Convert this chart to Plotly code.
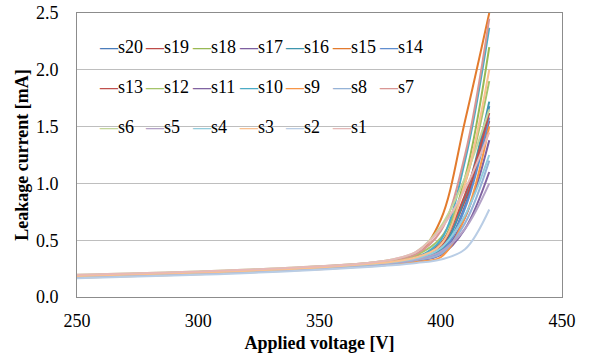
import plotly.graph_objects as go

voltage = [250, 275, 300, 325, 350, 370, 380, 390, 400, 410, 420]

s20 = [0.180, 0.195, 0.210, 0.230, 0.255, 0.280, 0.300, 0.330, 0.400, 0.800, 1.68]
s19 = [0.185, 0.200, 0.215, 0.235, 0.260, 0.285, 0.305, 0.340, 0.440, 0.850, 1.55]
s18 = [0.180, 0.195, 0.210, 0.235, 0.260, 0.290, 0.310, 0.350, 0.470, 1.050, 2.20]
s17 = [0.175, 0.190, 0.205, 0.225, 0.250, 0.275, 0.295, 0.325, 0.380, 0.700, 1.38]
s16 = [0.180, 0.195, 0.210, 0.230, 0.255, 0.280, 0.300, 0.335, 0.420, 0.880, 1.72]
s15 = [0.175, 0.190, 0.205, 0.225, 0.250, 0.275, 0.295, 0.360, 0.680, 1.550, 2.50]
s14 = [0.180, 0.195, 0.210, 0.230, 0.255, 0.280, 0.300, 0.330, 0.390, 0.780, 1.58]
s13 = [0.185, 0.200, 0.215, 0.235, 0.260, 0.285, 0.310, 0.350, 0.470, 0.900, 1.62]
s12 = [0.190, 0.205, 0.220, 0.240, 0.265, 0.295, 0.320, 0.370, 0.520, 1.000, 1.90]
s11 = [0.175, 0.190, 0.205, 0.225, 0.250, 0.275, 0.295, 0.320, 0.370, 0.600, 1.10]
s10 = [0.180, 0.195, 0.210, 0.230, 0.255, 0.285, 0.305, 0.345, 0.500, 1.200, 2.37]
s9  = [0.170, 0.185, 0.200, 0.220, 0.245, 0.270, 0.285, 0.310, 0.350, 0.700, 1.50]
s8  = [0.175, 0.190, 0.205, 0.225, 0.250, 0.275, 0.295, 0.325, 0.380, 0.650, 1.20]
s7  = [0.190, 0.205, 0.220, 0.240, 0.270, 0.300, 0.325, 0.380, 0.580, 1.250, 2.45]
s6  = [0.195, 0.210, 0.225, 0.245, 0.270, 0.300, 0.330, 0.400, 0.620, 1.050, 1.65]
s5  = [0.180, 0.195, 0.210, 0.230, 0.255, 0.280, 0.300, 0.330, 0.400, 0.600, 1.00]
s4  = [0.185, 0.200, 0.215, 0.235, 0.260, 0.285, 0.305, 0.340, 0.430, 0.720, 1.25]
s3  = [0.185, 0.200, 0.215, 0.235, 0.260, 0.290, 0.310, 0.350, 0.460, 1.000, 2.00]
s2  = [0.165, 0.180, 0.195, 0.215, 0.240, 0.265, 0.280, 0.300, 0.330, 0.420, 0.77]
s1  = [0.195, 0.210, 0.225, 0.245, 0.270, 0.300, 0.330, 0.400, 0.600, 0.950, 1.45]

series_names = ["s20", "s19", "s18", "s17", "s16", "s15", "s14",
                "s13", "s12", "s11", "s10", "s9", "s8", "s7",
                "s6", "s5", "s4", "s3", "s2", "s1"]
series_values = [s20, s19, s18, s17, s16, s15, s14,
                 s13, s12, s11, s10, s9, s8, s7,
                 s6, s5, s4, s3, s2, s1]
series_colors = ["#4A7EBB", "#BE4B48", "#98B954", "#7D60A0", "#3D96AE", "#E37B2D", "#5F8FCF",
                 "#C0504D", "#A5C46A", "#8064A2", "#4BACC6", "#F79646", "#95B3D7", "#D99694",
                 "#C3D69B", "#B3A2C7", "#93CDDD", "#FAC090", "#B9CDE5", "#E6B9B8"]

FONT = "Liberation Serif"

fig = go.Figure()
for name, vals, col in zip(series_names, series_values, series_colors):
    fig.add_trace(go.Scatter(
        x=voltage, y=vals, name=name, mode="lines",
        line=dict(color=col, width=2, shape="spline", smoothing=1),
        showlegend=False,
    ))

FW, FH = 594, 358
L, R, T, B = 77, 562, 13, 297
W, H = R - L, B - T
col_px = [97, 143, 190, 237, 283, 330, 377]
row_px = [47, 87, 127]

# white legend box hiding the gridlines behind the legend
fig.add_shape(type="rect", xref="paper", yref="paper", layer="between",
              x0=(93 - L) / W, x1=(421 - L) / W,
              y0=1 - (150 - T) / H, y1=1 - (30 - T) / H,
              fillcolor="white", line=dict(width=0))

for i, (name, col) in enumerate(zip(series_names, series_colors)):
    r, c = divmod(i, 7)
    fig.add_annotation(
        xref="paper", yref="paper",
        x=(col_px[c] - L) / W, y=1 - (row_px[r] - T) / H,
        xanchor="left", yanchor="middle", showarrow=False,
        text=f"<span style='color:{col}'><b>—</b></span>{name}",
        font=dict(family=FONT, size=18, color="#000000", weight="normal"),
    )

fig.update_layout(
    width=FW, height=FH,
    margin=dict(l=L, r=FW - R, t=T, b=FH - B, autoexpand=False),
    paper_bgcolor="white", plot_bgcolor="white",
    font=dict(family=FONT, size=18, color="#000000"),
    showlegend=False,
    xaxis=dict(
        range=[250, 450], dtick=50, tick0=250, automargin=False,
        showgrid=False, zeroline=False,
        showline=True, linecolor="#8C8C8C", linewidth=1, mirror=True,
        ticks="", ticklabelstandoff=7,
        tickfont=dict(family=FONT, size=18, color="#000000", weight="normal"),
        title=dict(text="<b>Applied voltage [V]</b>", standoff=6,
                   font=dict(family=FONT, size=18, color="#000000")),
    ),
    yaxis=dict(
        range=[0, 2.5], dtick=0.5, tick0=0, tickformat=".1f", automargin=False,
        showgrid=True, gridcolor="#BEBEBE", gridwidth=1, zeroline=False,
        showline=True, linecolor="#8C8C8C", linewidth=1, mirror=True,
        ticks="", ticklabelstandoff=14, ticklabeloverflow="allow",
        tickfont=dict(family=FONT, size=18, color="#000000", weight="normal"),
        title=dict(text="<b>Leakage current [mA]</b>", standoff=2,
                   font=dict(family=FONT, size=18, color="#000000")),
    ),
)

fig.write_html("out.html", config={"displayModeBar": False},
               post_script="document.body.style.margin='0px';")
